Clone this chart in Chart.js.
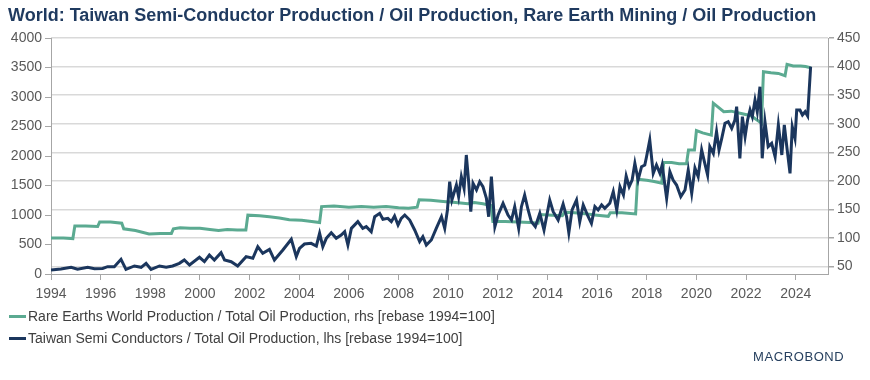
<!DOCTYPE html>
<html>
<head>
<meta charset="utf-8">
<script src="https://cdn.jsdelivr.net/npm/chart.js@4"></script>
<style>
  html, body { margin: 0; padding: 0; background: #fff; }
  #wrap { position: relative; width: 870px; height: 380px; font-family: "Liberation Sans", Arial, sans-serif; }
  #chart { position: absolute; left: 0; top: 0; }
  .title { position: absolute; left: 8px; top: 5px; font-size: 18px; font-weight: bold; color: #1f3a5f; white-space: nowrap; }
  .legend { position: absolute; left: 9px; font-size: 14px; color: #404040; white-space: nowrap; }
  .legend span { display: inline-block; width: 17px; height: 3px; vertical-align: middle; margin-right: 2px; position: relative; top: -1px; }
  .logo { position: absolute; left: 753px; top: 349px; font-size: 13px; letter-spacing: 0.6px; color: #27405f; }
</style>
</head>
<body>
<div id="wrap">
  <canvas id="chart" width="870" height="380"></canvas>
  <div class="title">World: Taiwan Semi-Conductor Production / Oil Production, Rare Earth Mining / Oil Production</div>
  <div class="legend" style="top:308px"><span style="background:#5baa91"></span>Rare Earths World Production / Total Oil Production, rhs [rebase 1994=100]</div>
  <div class="legend" style="top:330px"><span style="background:#1b365d"></span>Taiwan Semi Conductors / Total Oil Production, lhs [rebase 1994=100]</div>
  <div class="logo">MACROBOND</div>
</div>
<script>
// tick labels
const yearTicks = [1994, 1996, 1998, 2000, 2002, 2004, 2006, 2008, 2010, 2012, 2014, 2016, 2018, 2020, 2022, 2024];
const leftTicks = [0, 500, 1000, 1500, 2000, 2500, 3000, 3500, 4000];
const rightTicks = [50, 100, 150, 200, 250, 300, 350, 400, 450];

// Taiwan semi conductors / oil, lhs
const semiYears = [
  1994.00, 1994.40, 1994.81, 1995.07, 1995.48, 1995.75, 1996.08, 1996.28, 1996.55, 1996.82,
  1997.02, 1997.36, 1997.63, 1997.83, 1998.03, 1998.37, 1998.64, 1998.90, 1999.17, 1999.37,
  1999.58, 1999.98, 2000.18, 2000.38, 2000.58, 2000.85, 2000.99, 2001.26, 2001.52, 2001.86,
  2002.13, 2002.33, 2002.53, 2002.80, 2003.00, 2003.34, 2003.68, 2003.88, 2004.01, 2004.21,
  2004.48, 2004.69, 2004.82, 2004.95, 2005.09, 2005.29, 2005.49, 2005.69, 2005.83, 2005.96,
  2006.10, 2006.36, 2006.56, 2006.70, 2006.90, 2007.04, 2007.24, 2007.37, 2007.57, 2007.71,
  2007.84, 2007.98, 2008.11, 2008.25, 2008.45, 2008.65, 2008.85, 2008.98, 2009.12, 2009.32,
  2009.52, 2009.73, 2009.86, 2009.97, 2010.06, 2010.15, 2010.33, 2010.42, 2010.53, 2010.64,
  2010.73, 2010.83, 2010.91, 2011.00, 2011.14, 2011.27, 2011.40, 2011.54, 2011.63, 2011.74,
  2011.88, 2012.01, 2012.21, 2012.41, 2012.55, 2012.68, 2012.84, 2012.95, 2013.08, 2013.22,
  2013.35, 2013.51, 2013.69, 2013.86, 2014.09, 2014.23, 2014.43, 2014.63, 2014.77, 2014.86,
  2014.99, 2015.17, 2015.30, 2015.44, 2015.64, 2015.77, 2015.91, 2016.04, 2016.18, 2016.31,
  2016.51, 2016.65, 2016.79, 2016.92, 2017.06, 2017.17, 2017.29, 2017.41, 2017.52, 2017.65,
  2017.79, 2017.92, 2017.99, 2018.12, 2018.26, 2018.39, 2018.53, 2018.62, 2018.80, 2018.93,
  2019.06, 2019.20, 2019.37, 2019.54, 2019.67, 2019.81, 2019.94, 2020.07, 2020.21, 2020.32,
  2020.45, 2020.54, 2020.68, 2020.81, 2020.91, 2021.02, 2021.15, 2021.28, 2021.42, 2021.55,
  2021.62, 2021.75, 2021.85, 2021.96, 2022.06, 2022.16, 2022.25, 2022.36, 2022.45, 2022.56,
  2022.65, 2022.76, 2022.89, 2023.03, 2023.17, 2023.30, 2023.44, 2023.54, 2023.64, 2023.77,
  2023.86, 2023.97, 2024.04, 2024.17, 2024.27, 2024.38, 2024.48, 2024.60
];
const semiValues = [
  68, 85, 113, 80, 113, 90, 95, 124, 124, 249,
  79, 136, 113, 181, 79, 136, 113, 136, 181, 237,
  153, 283, 209, 322, 237, 361, 237, 209, 136, 294,
  266, 463, 350, 418, 237, 407, 588, 294, 435, 508,
  520, 475, 690, 463, 605, 700, 605, 661, 717, 491,
  774, 887, 774, 802, 717, 971, 1028, 927, 944, 887,
  983, 830, 944, 1000, 915, 746, 548, 633, 491, 576,
  774, 971, 774, 1085, 1565, 1254, 1508, 1311, 1650, 1452,
  2017, 1537, 1056, 1537, 1424, 1565, 1480, 1283, 971, 1650,
  802, 1000, 1198, 1000, 915, 1141, 774, 1141, 1339, 1085,
  887, 802, 1028, 746, 1254, 1056, 915, 1186, 971, 700,
  1085, 1254, 887, 1170, 971, 859, 1141, 1085, 1170, 1113,
  1198, 1395, 1085, 1480, 1339, 1661, 1480, 1593, 1876, 1593,
  1819, 1848, 1988, 2271, 1706, 1848, 1706, 1848, 1283, 1734,
  1593, 1508, 1311, 1424, 1763, 1367, 1797, 1650, 2102, 1904,
  1678, 2158, 2045, 2412, 2102, 2300, 2554, 2582, 2469, 2610,
  2836, 1961, 2666, 2327, 2610, 2780, 2666, 2949, 2751, 3175,
  1961, 2582, 2158, 2215, 1988, 2526, 2017, 2526, 2158, 1706,
  2497, 2300, 2780, 2780, 2695, 2751, 2678, 3514
];

// Rare earths world production / oil, rhs
const rareYears = [
  1994.00, 1994.50, 1994.88, 1994.96, 1995.40, 1995.88, 1995.96, 1996.40, 1996.85, 1996.93,
  1997.40, 1997.95, 1998.40, 1998.85, 1998.93, 1999.20, 1999.60, 2000.00, 2000.40, 2000.75,
  2001.10, 2001.50, 2001.85, 2001.93, 2002.40, 2002.80, 2003.20, 2003.60, 2004.10, 2004.50,
  2004.82, 2004.90, 2005.40, 2006.00, 2006.50, 2007.00, 2007.50, 2008.00, 2008.40, 2008.75,
  2008.83, 2009.30, 2009.80, 2010.30, 2010.80, 2011.05, 2011.40, 2011.72, 2011.80, 2012.30,
  2012.80, 2013.30, 2013.62, 2013.70, 2014.20, 2014.60, 2014.68, 2015.10, 2015.60, 2016.00,
  2016.45, 2016.53, 2017.00, 2017.55, 2017.63, 2018.00, 2018.30, 2018.60, 2018.68, 2019.00,
  2019.30, 2019.60, 2019.68, 2019.92, 2020.00, 2020.25, 2020.60, 2020.68, 2020.85, 2021.10,
  2021.40, 2021.80, 2022.20, 2022.62, 2022.70, 2023.00, 2023.30, 2023.57, 2023.65, 2023.90,
  2024.20, 2024.40, 2024.60
];
const rareValues = [
  100, 100, 99, 121, 121, 120, 128, 128, 126, 116,
  113, 107, 108, 108, 116, 118, 117, 117, 115, 113,
  115, 114, 114, 140, 139, 137, 135, 132, 131, 129,
  127, 155, 156, 154, 155, 154, 155, 153, 152, 154,
  167, 166, 164, 162, 160, 162, 160, 157, 129, 129,
  128, 127, 126, 141, 140, 139, 145, 144, 142, 140,
  138, 144, 144, 142, 203, 201, 199, 196, 232, 232,
  230, 230, 254, 254, 288, 284, 280, 336, 330, 321,
  322, 318, 314, 301, 391, 389, 388, 384, 404, 401,
  401, 400, 398
];

const gridGrey = '#d9d9d9';
const axisGrey = '#a6a6a6';
const tickFont = { family: 'Liberation Sans', size: 14 };

const semiPoints = semiYears.map((yr, i) => ({ x: yr, y: semiValues[i] }));
const rarePoints = rareYears.map((yr, i) => ({ x: yr, y: rareValues[i] }));

new Chart(document.getElementById('chart'), {
  type: 'line',
  data: {
    datasets: [
      {
        label: 'Taiwan Semi Conductors / Total Oil Production, lhs [rebase 1994=100]',
        data: semiPoints,
        yAxisID: 'yL',
        borderColor: '#1b365d',
        borderWidth: 3,
        pointRadius: 0,
        tension: 0
      },
      {
        label: 'Rare Earths World Production / Total Oil Production, rhs [rebase 1994=100]',
        data: rarePoints,
        yAxisID: 'yR',
        borderColor: '#5baa91',
        borderWidth: 3,
        pointRadius: 0,
        tension: 0
      }
    ]
  },
  options: {
    responsive: false,
    animation: false,
    layout: { padding: { top: 38, left: 0, right: 0, bottom: 0 } },
    plugins: { legend: { display: false }, tooltip: { enabled: false } },
    scales: {
      x: {
        type: 'linear',
        min: 1994,
        max: 2025.3,
        afterBuildTicks: s => { s.ticks = yearTicks.map(v => ({ value: v })); },
        afterFit: s => { s.height = 106; },
        border: { color: axisGrey, width: 1 },
        grid: { drawOnChartArea: false, tickLength: 6, color: axisGrey },
        ticks: { font: tickFont, color: '#595959', padding: 6, maxRotation: 0, autoSkip: false, callback: v => String(v) }
      },
      yL: {
        position: 'left',
        min: 0,
        max: 4000,
        afterBuildTicks: s => { s.ticks = leftTicks.map(v => ({ value: v })); },
        afterFit: s => { s.width = 51; },
        border: { color: axisGrey, width: 1 },
        grid: { drawOnChartArea: false, tickLength: 6, color: axisGrey },
        ticks: { font: tickFont, color: '#595959', padding: 3, callback: v => String(v) }
      },
      yR: {
        position: 'right',
        min: 37,
        max: 450,
        afterBuildTicks: s => { s.ticks = rightTicks.map(v => ({ value: v })); },
        afterFit: s => { s.width = 42; },
        border: { color: axisGrey, width: 1 },
        grid: { color: gridGrey, lineWidth: 1.5, tickLength: 6, tickColor: axisGrey },
        ticks: { font: tickFont, color: '#595959', padding: 3, callback: v => String(v) }
      }
    }
  }
});
</script>
</body>
</html>
